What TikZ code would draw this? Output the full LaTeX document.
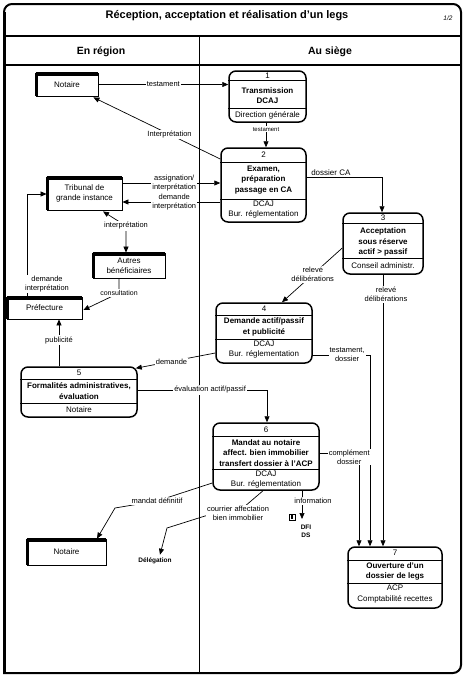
\documentclass[tikz,border=0pt]{standalone}
\usepackage{fontspec}
\setmainfont{Liberation Sans}
\usetikzlibrary{arrows.meta,calc}
\newcommand\extbars[1]{%
  \draw[line width=3.5pt] ([yshift=-1.2pt]#1.north west) -- ([yshift=-1.2pt]#1.north east);
  \draw[line width=3pt] ([xshift=1.2pt]#1.north west) -- ([xshift=1.2pt]#1.south west);}
\begin{document}
\begin{tikzpicture}[x=1pt,y=-1pt,
  every node/.style={font=\fontsize{8}{10.2}\selectfont, align=center, inner sep=1pt},
  proc/.style={draw, line width=1.5pt, rounded corners=7pt, inner sep=0pt},
  ext/.style={draw, line width=0.8pt, inner sep=0pt},
  sepline/.style={line width=0.6pt},
  arr/.style={line width=0.7pt, -{Triangle[length=6pt,width=5pt]}},
  lbl/.style={fill=white, inner sep=1pt, font=\fontsize{7.5}{9}\selectfont},
  bf/.style={font=\fontsize{8}{10.2}\selectfont\bfseries},
]
\useasboundingbox (0,0) rectangle (466,678);
% frame
\draw[line width=2pt, rounded corners=8pt, line cap=rect] (4,673) -- (4,4) -- (461,4) -- (461,673) -- (4,673);
\draw[line width=3pt] (4,12) -- (4,673);
\draw[line width=2.5pt] (4,36) -- (461,36);
\draw[line width=1.2pt] (4,65) -- (461,65);
\draw[line width=0.9pt] (199,36) -- (199,673);
\node[font=\fontsize{11}{13}\selectfont\bfseries] (title) at (227,16) {Réception, acceptation et réalisation d'un legs};
\node[font=\fontsize{6.5}{7}\selectfont\itshape] (page) at (448,18) {1/2};
\node[font=\fontsize{10.5}{12}\selectfont\bfseries] (hreg) at (101,52) {En région};
\node[font=\fontsize{10.5}{12}\selectfont\bfseries] (hsiege) at (330,52) {Au siège};

% external entities
\node[ext, minimum width=62pt, minimum height=23pt] (not1) at (67,84.5) {Notaire};
\extbars{not1}
\node[ext, minimum width=75pt, minimum height=33pt] (trib) at (84.5,193.5) {Tribunal de\\grande instance};
\extbars{trib}
\node[ext, minimum width=72pt, minimum height=25pt] (autres) at (129,265.5) {Autres\\bénéficiaires};
\extbars{autres}
\node[ext, minimum width=75pt, minimum height=22pt] (pref) at (44.5,308) {Préfecture};
\extbars{pref}
\node[ext, minimum width=79pt, minimum height=26pt] (notb) at (66.5,552) {Notaire};
\extbars{notb}

% processes
\node[proc, minimum width=77pt, minimum height=51pt] (p1) at (267.5,96.5) {};
\draw[sepline] (p1.west |- 0,80) -- (p1.east |- 0,80);
\draw[sepline] (p1.west |- 0,108) -- (p1.east |- 0,108);
\node (p1n) at (267.5,75.5) {1};
\node[bf] (p1t) at (267.5,96) {Transmission\\DCAJ};
\node (p1b) at (267.5,115) {Direction générale};

\node[proc, minimum width=85pt, minimum height=74pt] (p2) at (263.5,185) {};
\draw[sepline] (p2.west |- 0,162) -- (p2.east |- 0,162);
\draw[sepline] (p2.west |- 0,199) -- (p2.east |- 0,199);
\node (p2n) at (263.5,155) {2};
\node[bf] (p2t) at (263.5,180) {Examen,\\préparation\\passage en CA};
\node (p2b) at (263.5,209.5) {DCAJ\\Bur. réglementation};

\node[proc, minimum width=80pt, minimum height=61pt] (p3) at (383,243.5) {};
\draw[sepline] (p3.west |- 0,223) -- (p3.east |- 0,223);
\draw[sepline] (p3.west |- 0,258) -- (p3.east |- 0,258);
\node (p3n) at (383,218) {3};
\node[bf] (p3t) at (383,242) {Acceptation\\sous réserve\\actif > passif};
\node (p3b) at (383,266) {Conseil administr.};

\node[proc, minimum width=96pt, minimum height=60pt] (p4) at (264,333) {};
\draw[sepline] (p4.west |- 0,315) -- (p4.east |- 0,315);
\draw[sepline] (p4.west |- 0,339) -- (p4.east |- 0,339);
\node (p4n) at (264,309) {4};
\node[bf] (p4t) at (264,327) {Demande actif/passif\\et publicité};
\node (p4b) at (264,349.5) {DCAJ\\Bur. réglementation};

\node[proc, minimum width=116pt, minimum height=50pt] (p5) at (79,392) {};
\draw[sepline] (p5.west |- 0,379) -- (p5.east |- 0,379);
\draw[sepline] (p5.west |- 0,403) -- (p5.east |- 0,403);
\node (p5n) at (79,373) {5};
\node[bf] (p5t) at (79,391) {Formalités administratives,\\évaluation};
\node (p5b) at (79,410) {Notaire};

\node[proc, minimum width=106pt, minimum height=67pt] (p6) at (266,456.5) {};
\draw[sepline] (p6.west |- 0,436) -- (p6.east |- 0,436);
\draw[sepline] (p6.west |- 0,469) -- (p6.east |- 0,469);
\node (p6n) at (266,429.5) {6};
\node[bf] (p6t) at (266,453) {Mandat au notaire\\affect. bien immobilier\\transfert dossier à l'ACP};
\node (p6b) at (266,479.5) {DCAJ\\Bur. réglementation};

\node[proc, minimum width=94pt, minimum height=61pt] (p7) at (395,577.5) {};
\draw[sepline] (p7.west |- 0,560) -- (p7.east |- 0,560);
\draw[sepline] (p7.west |- 0,583) -- (p7.east |- 0,583);
\node (p7n) at (395,553) {7};
\node[bf] (p7t) at (395,571.5) {Ouverture d'un\\dossier de legs};
\node (p7b) at (395,594) {ACP\\Comptabilité recettes};

\node[font=\fontsize{6.5}{8}\selectfont\bfseries] (deleg) at (155,561) {Délégation};
\node[font=\fontsize{6.5}{8}\selectfont\bfseries] (dfi) at (306,531) {DFI\\DS};
\coordinate (infoend) at (302,519);

% connectors
\draw[arr] (not1.east) -- (p1.west |- not1.east) node[lbl, pos=0.5] {testament};
\draw[arr] (p1.south -| 266,0) -- (p2.north -| 266,0) node[lbl, pos=0.27, font=\fontsize{6}{7}\selectfont] {testament};
\draw[arr] (p2.west |- 0,159) -- ($(not1.south east)+(-5,1)$) node[lbl, pos=0.4] {Interprétation};
\draw[arr] (trib.east |- 0,183) -- (p2.west |- 0,183) node[lbl, pos=0.53] {assignation/\\interprétation};
\draw[arr] (p2.west |- 0,202) -- (trib.east |- 0,202) node[lbl, pos=0.47] {demande\\interprétation};
\draw[line width=0.7pt, {Triangle[length=6pt,width=5pt]}-{Triangle[length=6pt,width=5pt]}] ($(trib.south)+(18.5,1)$) -- (126,226) node[lbl] {interprétation} -- (autres.north -| 126,0);
\draw[arr] (pref.north -| 27,0) |- (trib.west |- 0,194);
\node[lbl] (lbldi) at (47,284) {demande\\interprétation};
\draw[arr] (autres.south -| 119,0) -- (119,293) node[lbl, font=\fontsize{7}{8}\selectfont] {consultation} -- ($(pref.east)+(1,2)$);
\draw[arr] (p5.north -| 59,0) -- (pref.south -| 59,0) node[lbl, pos=0.56] {publicité};
\draw[arr] (p4.west |- 0,353) -- ($(p5.north east)+(-2,2)$) node[lbl, pos=0.55] {demande};
\draw[arr] (p2.east |- 0,177) -| (p3.north -| 382,0) node[pos=0.16, above, yshift=0pt] {dossier CA};
\draw[arr] (p3.west |- 0,248) -- (p4.north -| 282,0) node[lbl, pos=0.49] {relevé\\délibérations};
\draw[arr] (p3.south -| 383,0) -- (p7.north -| 383,0) node[lbl, pos=0.073, xshift=3pt] {relevé\\délibérations};
\draw[arr] (p4.east |- 0,355) -| (p7.north -| 370,0) node[lbl, pos=0.3] {testament,\\dossier};
\draw[arr] (p6.east |- 0,453) -| (p7.north -| 359,0) node[lbl, pos=0.375, yshift=-4pt] {complément\\dossier};
\draw[arr] (p5.east |- 0,390) -| (p6.north -| 267,0) node[lbl, pos=0.28] {évaluation actif/passif};
\draw[arr] (p6.west |- 0,483) -- (157,501) node[lbl] {mandat définitif} -- (115,508) -- (notb.north -| 97,0);
\draw[arr] (p6.south -| 263,0) -- (244,507) -- (205,516) -- (167,528) -- ($(deleg.north)+(5,-2)$);
\node[lbl] (lblcab) at (238,513) {courrier affectation\\bien immobilier};
\draw[arr] (p6.south -| 302,0) -- (infoend);
\node[lbl] (lblinfo) at (313,501) {information};
\draw[line width=0.6pt] (289,514) rectangle (295,520);
\fill (290.5,515) rectangle (292.5,519);
\end{tikzpicture}
\end{document}
